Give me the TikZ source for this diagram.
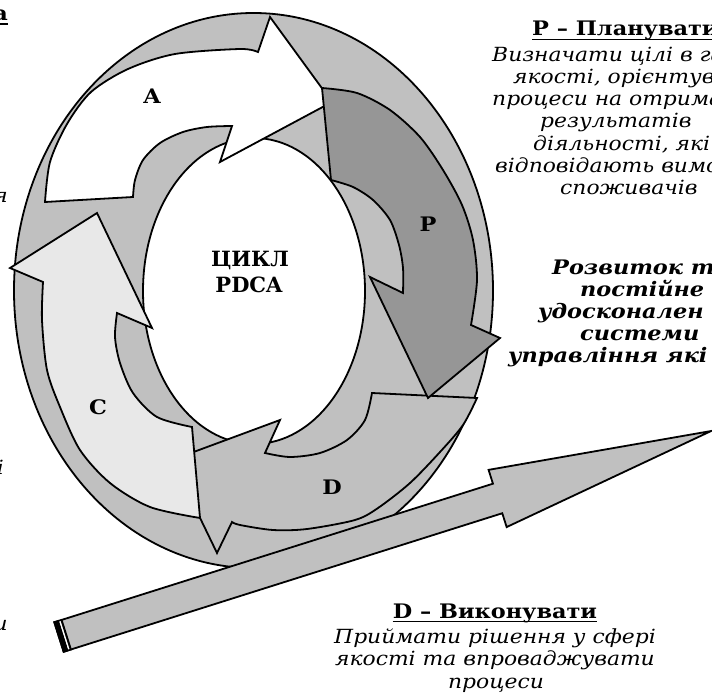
\documentclass[tikz,border=0pt]{standalone}
\usepackage{fontspec}
\setmainfont{DejaVu Serif}[FakeStretch=1.12]
\newfontfamily\plainserif{DejaVu Serif}
\definecolor{ringgray}{RGB}{192,192,192}
\definecolor{plangray}{RGB}{150,150,150}
\definecolor{checkgray}{RGB}{232,232,232}
\begin{document}
\begin{tikzpicture}[x=1pt,y=-1pt,
  shapeline/.style={draw=black,line width=1.8pt,line join=miter,miter limit=10},
  letterlbl/.style={inner sep=0pt,font=\fontsize{20}{20}\selectfont\bfseries},
  centerlbl/.style={inner sep=0pt,font=\plainserif\fontsize{21}{21}\selectfont\bfseries},
  headtxt/.style={inner sep=0pt,anchor=base west,font=\fontsize{20}{22}\selectfont\bfseries},
  bodytxt/.style={inner sep=0pt,anchor=base west,font=\fontsize{19.5}{22}\selectfont\itshape},
  goaltxt/.style={inner sep=0pt,anchor=base west,font=\fontsize{20}{22}\selectfont\bfseries\itshape},
  lowtxt/.style={inner sep=0pt,anchor=base,font=\fontsize{19.5}{22}\selectfont\itshape},
  uline/.style={line width=1.6pt}]
\useasboundingbox (0,0) rectangle (712,698);

% background disk and white core
\path[shapeline,fill=ringgray] (253.5,290.5) ellipse [x radius=239.5pt, y radius=277.5pt];
\path[shapeline,fill=white] (254,291) ellipse [x radius=111pt, y radius=153pt];

% D: bottom arc arrow
\path[shapeline,fill=ringgray] (372,393) -- plot[smooth] coordinates {(477,398) (463,425) (440,452) (410,483) (378,508) (355,520) (307,529) (273,530) (240,525) (232,522)}
  -- (217,553) -- (172,460) -- (280,420)
  -- plot[smooth] coordinates {(265,453) (290,457) (320,453) (347,440) (365,420) (372,393)} -- cycle;

% C: left arc arrow
\path[shapeline,fill=checkgray] (192,427) -- plot[smooth] coordinates {(200,518) (150,507) (110,483) (80,450) (60,407) (47,370) (42,320) (43,282)}
  -- (10,268) -- (97,213) -- (152,328)
  -- plot[smooth] coordinates {(117,313) (115,337) (120,363) (133,393) (157,417) (192,427)} -- cycle;

% A: top-left arc arrow
\path[shapeline,fill=white] (133,197) -- plot[smooth] coordinates {(45,202) (50,162) (67,124) (91,92) (128,69) (175,54) (240,49) (258,52)}
  -- (270,17) -- (332,102) -- (220,162)
  -- plot[smooth] coordinates {(232,126) (207,127) (183,132) (160,143) (143,160) (135,180) (133,197)} -- cycle;

% P: right arc arrow
\path[shapeline,fill=plangray] (331,180) -- plot[smooth] coordinates {(322,88) (357,93) (390,110) (420,137) (443,170) (462,205) (473,240) (477,280) (471,325)}
  -- (500,338) -- (428,398) -- (370,277)
  -- plot[smooth] coordinates {(403,293) (403,268) (399,245) (390,220) (373,200) (353,187) (331,180)} -- cycle;

% long striped arrow
\begin{scope}[shift={(59,637)},rotate=17.53]
  \path[shapeline,fill=ringgray] (0,-15.5) -- (460,-15.5) -- (460,-30) -- (684,0) -- (460,30) -- (460,15.5) -- (0,15.5) -- cycle;
  \fill[black] (-0.9,-16.4) rectangle (5,16.4);
  \fill[white] (5,-14.6) rectangle (6.5,14.6);
  \fill[black] (6.5,-16.4) rectangle (8.5,16.4);
\end{scope}

% labels on the arrows
\node[letterlbl] (lA) at (152,96) {A};
\node[letterlbl] (lP) at (428,224) {P};
\node[letterlbl] (lC) at (98,407) {C};
\node[letterlbl] (lD) at (332,487) {D};
\node[centerlbl] (cyc1) at (250,260) {ЦИКЛ};
\node[centerlbl] (cyc2) at (249,285) {PDCA};

% P description
\node[headtxt] (ptitle) at (532,36) {P – Планувати};
\draw[uline] ([yshift=-3.5pt]ptitle.base west) -- ++(200,0);
\node[bodytxt] (p1) at (492,62) {Визначати цілі в га};
\node[bodytxt] (p2) at (513,84) {якості, орієнтува};
\node[bodytxt] (p3) at (492,106) {процеси на отрима};
\node[bodytxt] (p4) at (540,128) {результатів};
\node[bodytxt] (p5) at (533,150) {діяльності, які};
\node[bodytxt] (p6) at (495,172) {відповідають вимо};
\node[bodytxt] (p7) at (560,194) {споживачів};

% improvement statement
\node[goaltxt] (g1) at (552,274) {Розвиток т};
\node[goaltxt] (g2) at (580,296) {постійне};
\node[goaltxt] (g3) at (538,318) {удосконален};
\node[goaltxt] (g4) at (580,340) {системи};
\node[goaltxt] (g5) at (508,362) {управління які};

% D description
\node[headtxt,anchor=base] (dtitle) at (495,618) {D – Виконувати};
\draw[uline] ([yshift=-3.5pt]dtitle.base west) -- ([yshift=-3.5pt]dtitle.base east);
\node[lowtxt] (d1) at (495,643) {Приймати рішення у сфері};
\node[lowtxt] (d2) at (495,665) {якості та впроваджувати};
\node[lowtxt] (d3) at (496,688) {процеси};

% line ends of the texts at the left
\node[headtxt,anchor=base east] (l1) at (8,21) {а};
\draw[uline] ([yshift=-3pt]l1.base east) -- ++(-12,0);
\node[bodytxt,anchor=base east] (l2) at (8,202) {я};
\node[bodytxt,anchor=base east] (l3) at (4,474) {і};
\node[bodytxt,anchor=base east] (l4) at (8,630) {и};
\end{tikzpicture}
\end{document}
